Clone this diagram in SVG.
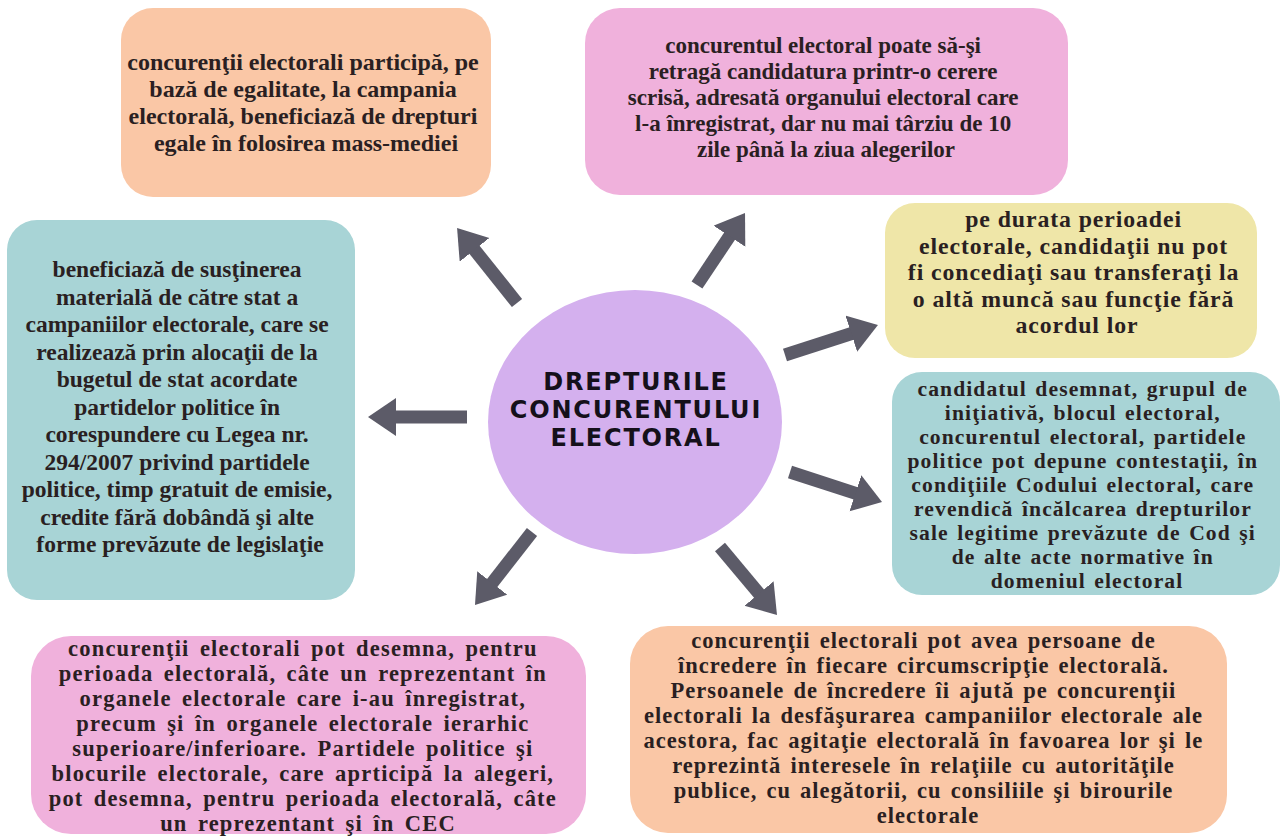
<svg xmlns="http://www.w3.org/2000/svg" width="1283" height="836" viewBox="0 0 1283 836">
<style>
.box text{font-family:"Liberation Serif","Times New Roman",serif;font-weight:bold;fill:#2a1f22;text-anchor:middle}
.peach{fill:#fac7a6}
.pink{fill:#f0b1dc}
.teal{fill:#a8d4d6}
.yellow{fill:#efe6a8}
.title{font-family:"DejaVu Sans",sans-serif;font-weight:bold;font-size:24px;letter-spacing:1.8px;fill:#15101a;text-anchor:middle}
.arr{stroke:#5c5b68;stroke-width:13;fill:none;stroke-linecap:butt;marker-end:url(#head)}
</style>
<defs>
<marker id="head" markerUnits="userSpaceOnUse" markerWidth="30" markerHeight="40" refX="2" refY="19" orient="auto" viewBox="0 0 30 40">
<path d="M0,0 L28,19 L0,38 z" fill="#5c5b68"/>
</marker>
</defs>
<rect width="1283" height="836" fill="#ffffff"/>

<g id="connectors">
<line class="arr" x1="517" y1="303" x2="473.3" y2="248.3"/>
<line class="arr" x1="697" y1="285" x2="730.6" y2="234.6"/>
<line class="arr" x1="785" y1="355" x2="853.2" y2="333"/>
<line class="arr" x1="467" y1="417" x2="394" y2="417"/>
<line class="arr" x1="790" y1="472" x2="857.3" y2="493.9"/>
<line class="arr" x1="532" y1="532" x2="491" y2="584.5"/>
<line class="arr" x1="720" y1="547" x2="760.3" y2="595.1"/>
</g>

<g id="center">
<ellipse cx="635" cy="422" rx="147" ry="132" fill="#d4b0ee"/>
<text class="title" x="636" y="390">DREPTURILE</text>
<text class="title" x="636" y="418">CONCURENTULUI</text>
<text class="title" x="636" y="446">ELECTORAL</text>
</g>

<g id="box1" class="box">
<rect class="peach" x="121" y="8" width="370" height="189" rx="32"/>
<text font-size="24">
<tspan x="306" y="70">concurenţii electorali participă, pe</tspan>
<tspan x="306" y="97">bază de egalitate, la campania</tspan>
<tspan x="306" y="124">electorală, beneficiază de drepturi</tspan>
<tspan x="306" y="151">egale în folosirea mass-mediei</tspan>
</text>
</g>

<g id="box2" class="box">
<rect class="pink" x="585" y="8" width="483" height="187" rx="35"/>
<text font-size="23">
<tspan x="826" y="53">concurentul electoral poate să-şi</tspan>
<tspan x="826" y="79">retragă candidatura printr-o cerere</tspan>
<tspan x="826" y="105">scrisă, adresată organului electoral care</tspan>
<tspan x="826" y="131">l-a înregistrat, dar nu mai târziu de 10</tspan>
<tspan x="826" y="157">zile până la ziua alegerilor</tspan>
</text>
</g>

<g id="box3" class="box">
<rect class="teal" x="7" y="220" width="348" height="380" rx="30"/>
<text font-size="23.5">
<tspan x="180" y="277">beneficiază de susţinerea</tspan>
<tspan x="180" y="304.5">materială de către stat a</tspan>
<tspan x="180" y="332">campaniilor electorale, care se</tspan>
<tspan x="180" y="359.5">realizează prin alocaţii de la</tspan>
<tspan x="180" y="387">bugetul de stat acordate</tspan>
<tspan x="180" y="414.5">partidelor politice în</tspan>
<tspan x="180" y="442">corespundere cu Legea nr.</tspan>
<tspan x="180" y="469.5">294/2007 privind partidele</tspan>
<tspan x="180" y="497">politice, timp gratuit de emisie,</tspan>
<tspan x="180" y="524.5">credite fără dobândă şi alte</tspan>
<tspan x="180" y="552">forme prevăzute de legislaţie</tspan>
</text>
</g>

<g id="box4" class="box">
<rect class="yellow" x="885" y="203" width="372" height="155" rx="30"/>
<text font-size="23.8" letter-spacing="0.9">
<tspan x="1077" y="227">pe durata perioadei</tspan>
<tspan x="1077" y="253.5">electorale, candidaţii nu pot</tspan>
<tspan x="1077" y="280">fi concediaţi sau transferaţi la</tspan>
<tspan x="1077" y="306.5">o altă muncă sau funcţie fără</tspan>
<tspan x="1077" y="333">acordul lor</tspan>
</text>
</g>

<g id="box5" class="box">
<rect class="teal" x="892" y="372" width="388" height="223" rx="30"/>
<text font-size="21.6" letter-spacing="1.1" word-spacing="2">
<tspan x="1087" y="396">candidatul desemnat, grupul de</tspan>
<tspan x="1087" y="420">iniţiativă, blocul electoral,</tspan>
<tspan x="1087" y="444">concurentul electoral, partidele</tspan>
<tspan x="1087" y="468">politice pot depune contestaţii, în</tspan>
<tspan x="1087" y="492">condiţiile Codului electoral, care</tspan>
<tspan x="1087" y="516">revendică încălcarea drepturilor</tspan>
<tspan x="1087" y="540">sale legitime prevăzute de Cod şi</tspan>
<tspan x="1087" y="564">de alte acte normative în</tspan>
<tspan x="1087" y="588">domeniul electoral</tspan>
</text>
</g>

<g id="box6" class="box">
<rect class="pink" x="31" y="636" width="555" height="198" rx="40"/>
<text font-size="22.5" letter-spacing="1.2" word-spacing="3.5">
<tspan x="308" y="656">concurenţii electorali pot desemna, pentru</tspan>
<tspan x="308" y="681">perioada electorală, câte un reprezentant în</tspan>
<tspan x="308" y="706">organele electorale care i-au înregistrat,</tspan>
<tspan x="308" y="731">precum şi în organele electorale ierarhic</tspan>
<tspan x="308" y="756">superioare/inferioare. Partidele politice şi</tspan>
<tspan x="308" y="781">blocurile electorale, care aprticipă la alegeri,</tspan>
<tspan x="308" y="806">pot desemna, pentru perioada electorală, câte</tspan>
<tspan x="308" y="831">un reprezentant şi în CEC</tspan>
</text>
</g>

<g id="box7" class="box">
<rect class="peach" x="630" y="626" width="597" height="207" rx="38"/>
<text font-size="22.5" letter-spacing="1.0" word-spacing="2.5">
<tspan x="928" y="648">concurenţii electorali pot avea persoane de</tspan>
<tspan x="928" y="673">încredere în fiecare circumscripţie electorală.</tspan>
<tspan x="928" y="698">Persoanele de încredere îi ajută pe concurenţii</tspan>
<tspan x="928" y="723">electorali la desfăşurarea campaniilor electorale ale</tspan>
<tspan x="928" y="748">acestora, fac agitaţie electorală în favoarea lor şi le</tspan>
<tspan x="928" y="773">reprezintă interesele în relaţiile cu autorităţile</tspan>
<tspan x="928" y="798">publice, cu alegătorii, cu consiliile şi birourile</tspan>
<tspan x="928" y="823">electorale</tspan>
</text>
</g>
</svg>
